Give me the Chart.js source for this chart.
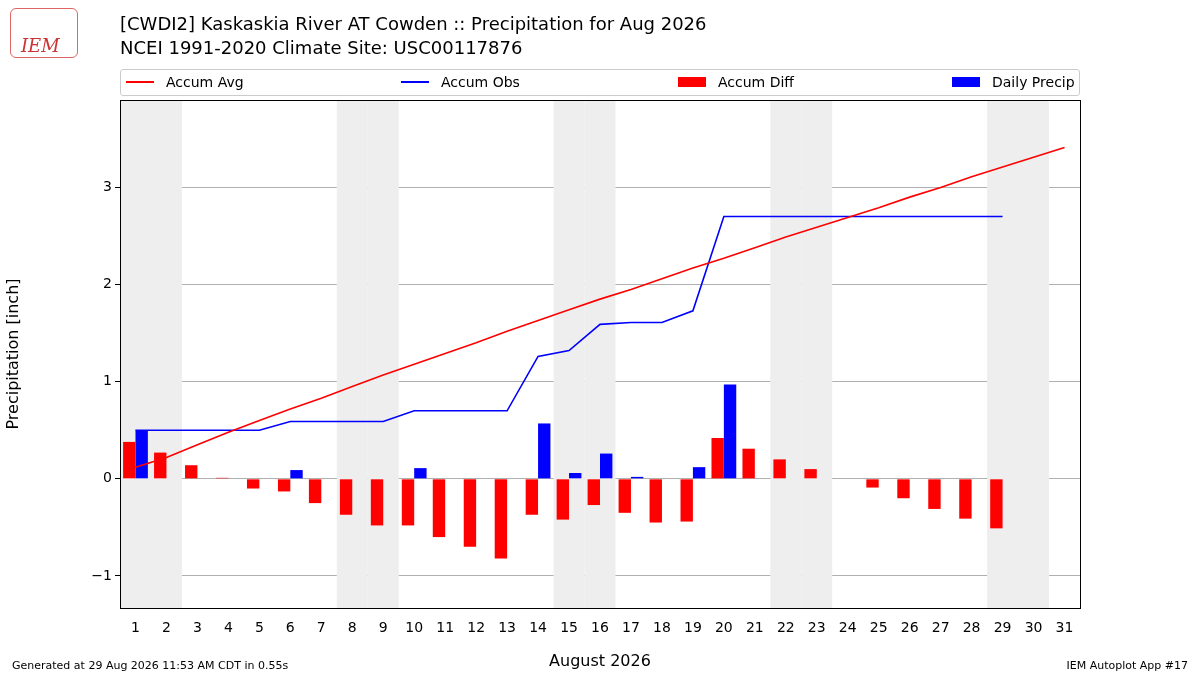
<!DOCTYPE html>
<html><head><meta charset="utf-8">
<script src="https://cdn.jsdelivr.net/npm/chart.js@4"></script>
<style>
body{margin:0;width:1200px;height:675px;position:relative;font-family:"DejaVu Sans",sans-serif;background:#fff;overflow:hidden}
#c{position:absolute;left:0;top:0}
.t{position:absolute;left:120px;font-size:18px;color:#000}
#leg{position:absolute;left:120px;top:69px;width:958px;height:25px;border:1px solid #ccc;border-radius:3px;font-size:14px}
.li{position:absolute;top:4px;display:flex;align-items:center}
.ln{width:28px;height:2px;margin-right:12px}
.bx{width:28px;height:10px;margin-right:12px}
.f{position:absolute;top:659px;font-size:11px}
</style></head><body>
<canvas id="c" width="1200" height="675"></canvas>
<div style="position:absolute;left:10px;top:8px;width:68px;height:50px;border:1px solid #d66;border-radius:6px;color:#c33;font:italic 18px 'DejaVu Serif';padding:26px 0 0 10px;box-sizing:border-box">IEM</div>
<div class="t" style="top:13px">[CWDI2] Kaskaskia River  AT Cowden :: Precipitation for Aug 2026</div>
<div class="t" style="top:37px">NCEI 1991-2020 Climate Site: USC00117876</div>
<div id="leg">
<div class="li" style="left:5px"><div class="ln" style="background:red"></div>Accum Avg</div>
<div class="li" style="left:280px"><div class="ln" style="background:blue"></div>Accum Obs</div>
<div class="li" style="left:557px"><div class="bx" style="background:red"></div>Accum Diff</div>
<div class="li" style="left:831px"><div class="bx" style="background:blue"></div>Daily Precip</div>
</div>
<div class="f" style="left:12px">Generated at 29 Aug 2026 11:53 AM CDT in 0.55s</div>
<div class="f" style="right:12px">IEM Autoplot App #17</div>
<script>
const days=Array.from({length:31},(_,i)=>String(i+1));
const accumAvg=[0.12,0.22,0.35,0.48,0.60,0.72,0.83,0.95,1.07,1.18,1.29,1.40,1.52,1.63,1.74,1.85,1.95,2.06,2.17,2.27,2.38,2.49,2.59,2.69,2.79,2.90,3.00,3.11,3.21,3.31,3.41];
const accumObs=[0.50,0.50,0.50,0.50,0.50,0.59,0.59,0.59,0.59,0.70,0.70,0.70,0.70,1.26,1.32,1.59,1.61,1.61,1.73,2.70,2.70,2.70,2.70,2.70,2.70,2.70,2.70,2.70,2.70,null,null];
const accumDiff=[0.38,0.27,0.14,0.01,-0.10,-0.13,-0.25,-0.37,-0.48,-0.48,-0.60,-0.70,-0.82,-0.37,-0.42,-0.27,-0.35,-0.45,-0.44,0.42,0.31,0.20,0.10,0.00,-0.09,-0.20,-0.31,-0.41,-0.51,null,null];
const dailyPrecip=[0.50,0,0,0,0,0.09,0,0,0,0.11,0,0,0,0.57,0.06,0.26,0.02,0,0.12,0.97,0,0,0,0,0,0,0,0,0,null,null];
const weekendDays=[1,2,8,9,15,16,22,23,29,30];
const yTicks=[-1,0,1,2,3];
const shade={id:'shade',beforeDatasetsDraw(ch){const{ctx,chartArea:a,scales:{x}}=ch;const w=x.getPixelForValue(1)-x.getPixelForValue(0);ctx.save();ctx.fillStyle='#eeeeee';weekendDays.forEach(d=>{const p=x.getPixelForValue(d-1);ctx.fillRect(p-w/2,a.top,w,a.bottom-a.top);});ctx.restore();},
afterDraw(ch){const{ctx,chartArea:a}=ch;ctx.save();ctx.strokeStyle='#000';ctx.lineWidth=1;ctx.strokeRect(a.left+0.5,a.top+0.5,a.right-a.left,a.bottom-a.top);ctx.restore();}};
Chart.defaults.font.family='DejaVu Sans';Chart.defaults.color='#000';
new Chart(document.getElementById('c'),{type:'bar',
data:{labels:days,datasets:[
{type:'line',data:accumAvg,borderColor:'red',borderWidth:1.6,pointRadius:0,order:0},
{type:'line',data:accumObs,borderColor:'blue',borderWidth:1.6,pointRadius:0,order:0},
{data:accumDiff,backgroundColor:'red',categoryPercentage:0.8,barPercentage:1,order:1},
{data:dailyPrecip,backgroundColor:'blue',categoryPercentage:0.8,barPercentage:1,order:1}]},
options:{responsive:false,animation:false,events:[],layout:{padding:{left:0,right:120,top:100,bottom:0}},
plugins:{legend:{display:false},tooltip:{enabled:false}},
scales:{x:{grid:{display:false},border:{display:false},ticks:{font:{size:14},maxRotation:0,autoSkip:false,padding:4},
title:{display:true,text:'August 2026',font:{size:16},padding:{top:0}},afterFit(s){s.height=67;}},
y:{min:-1.33,max:3.9,border:{display:false},grid:{color:'#b0b0b0',drawTicks:true,tickLength:5,tickColor:'#000'},
afterBuildTicks(s){s.ticks=yTicks.map(v=>({value:v}));},
ticks:{font:{size:14},callback:v=>String(v).replace('-','\u2212')},
title:{display:true,text:'Precipitation [inch]',font:{size:16}},afterFit(s){s.width=120;}}}},
plugins:[shade]});
</script></body></html>
